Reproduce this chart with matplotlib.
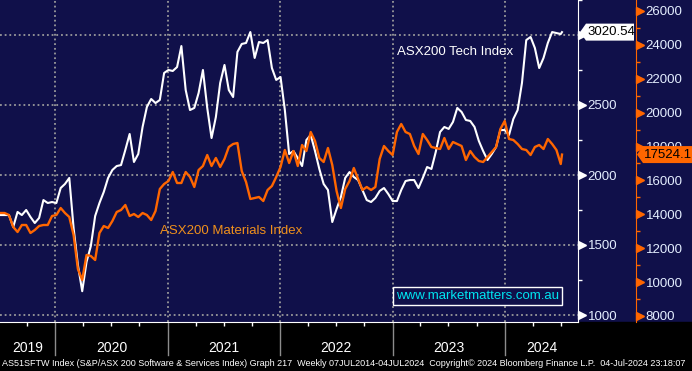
import pandas as pd
import matplotlib
matplotlib.use('Agg')
import matplotlib.pyplot as plt
import matplotlib.dates as mdates
from matplotlib.patches import Polygon, Rectangle
from matplotlib.transforms import blended_transform_factory, IdentityTransform

plt.rcParams['font.family'] = ['Liberation Sans', 'DejaVu Sans']

# biweekly closes (Jul 2019 - Jun 2024) + last print 4-Jul-2024
dates = list(pd.date_range('2019-07-07', periods=131, freq='2W')) + [pd.Timestamp('2024-07-04')]

tech = [1714, 1714, 1714, 1629, 1736, 1714, 1750, 1700, 1657, 1693,
        1821, 1800, 1807, 1800, 1907, 1936, 1979, 1621, 1357, 1170,
        1379, 1493, 1707, 1800, 1879, 1979, 2036, 2064, 2071, 2179,
        2293, 2093, 2150, 2343, 2486, 2543, 2514, 2536, 2729, 2750,
        2743, 2771, 2921, 2607, 2464, 2479, 2586, 2750, 2479, 2264,
        2414, 2657, 2786, 2607, 2557, 2879, 2936, 2943, 3021, 2836,
        2950, 2943, 2964, 2764, 2679, 2700, 2464, 2150, 2171, 2121,
        2064, 2250, 2286, 2171, 2043, 1936, 1893, 1664, 1757, 1843,
        1979, 2021, 1986, 1964, 1893, 1821, 1807, 1836, 1886, 1907,
        1864, 1814, 1814, 1893, 1957, 1964, 1964, 1907, 1979, 2057,
        2043, 2164, 2307, 2343, 2329, 2379, 2479, 2450, 2393, 2386,
        2343, 2243, 2171, 2107, 2150, 2200, 2321, 2321, 2286, 2400,
        2464, 2657, 2964, 2986, 2907, 2764, 2836, 2943, 3021, 3014,
        3007, 3020.54]

materials = [14077, 14077, 13959, 13251, 12956, 13369, 13369, 12897, 13074, 13310,
             13369, 13369, 13900, 13959, 14372, 14077, 13841, 12779, 10773, 10124,
             11599, 11540, 11304, 12897, 13310, 13192, 13605, 14136, 14254, 14549,
             13900, 14018, 13841, 14077, 13959, 13664, 14195, 15493, 15788, 15965,
             16496, 15847, 15847, 16496, 16201, 15611, 16614, 16850, 17499, 16850,
             17322, 16791, 17263, 17971, 18148, 18207, 16555, 15906, 14903, 14962,
             15021, 14785, 15434, 15670, 16201, 16791, 17794, 17027, 17735, 16850,
             18089, 17735, 18856, 18325, 17322, 17086, 17912, 16909, 15375, 14372,
             15493, 15965, 16732, 16083, 15434, 15611, 15434, 15611, 17263, 18030,
             17735, 17499, 18856, 19328, 18856, 18738, 18030, 17558, 18738, 18384,
             17971, 17912, 17853, 18502, 17853, 18266, 18148, 18030, 17204, 17735,
             17381, 17145, 17086, 17381, 17676, 17971, 19033, 19505, 18443, 18384,
             18148, 17853, 17794, 17499, 17971, 18089, 17853, 18443, 18148, 17794,
             16968, 17524.1]

years = [2019, 2020, 2021, 2022, 2023, 2024]
tech_ticks = [1000, 1500, 2000, 2500]
mat_ticks = list(range(8000, 26001, 2000))

NAVY = '#10104a'
ORANGE = '#ff6600'
LBL = '#e4eeff'
GRID = '#9a9a9a'
W, H = 692, 371

fig = plt.figure(figsize=(W / 100, H / 100), dpi=100, facecolor=NAVY)
fig.patches.append(Rectangle((0, 0), 1, 49 / H, transform=fig.transFigure,
                             color='black', zorder=-1))

ax = fig.add_axes([0, 49 / H, 578 / W, 322 / H])
ax.set_facecolor(NAVY)
ax.plot(dates, tech, color='white', lw=1.5, zorder=3)

ax2 = ax.twinx()
ax2.plot(dates, materials, color=ORANGE, lw=1.7)

x0, x1 = pd.Timestamp('2019-07-06'), pd.Timestamp('2024-08-25')
ax.set_xlim(x0, x1)
ax.set_ylim(950, 3250)
ax2.set_ylim(7646, 26644)

# dotted grid
for v in [1000, 1500, 2000, 2500, 3000]:
    ax.axhline(v, color=GRID, lw=1.3, ls=(0, (1, 1.6)), zorder=1)
for y in years[1:]:
    ax.axvline(pd.Timestamp(f'{y}-01-01'), color=GRID, lw=1.3, ls=(0, (1, 1.6)), zorder=1)

# spines
for s in ['top', 'left']:
    ax.spines[s].set_visible(False)
ax.spines['right'].set_color('white')
ax.spines['bottom'].set_color('white')
for s in ['top', 'left', 'bottom']:
    ax2.spines[s].set_visible(False)
ax2.spines['right'].set_position(('axes', 636 / 578))
ax2.spines['right'].set_color(ORANGE)

# tech axis (inner, white)
ax.yaxis.tick_right()
ax.set_yticks(tech_ticks)
ax.set_yticks([1250, 1750, 2250, 2750, 3250], minor=True)
ax.tick_params(axis='y', which='major', length=0, pad=7, labelsize=9.5, labelcolor=LBL)
ax.tick_params(axis='y', which='minor', length=3, width=1, color='white', direction='out')
bt = blended_transform_factory(ax.transAxes, ax.transData)
ax.plot([1.0069] * 5, tech_ticks + [3000], ls='none', marker='>', ms=5.5,
        color='white', transform=bt, clip_on=False)

# materials axis (outer, orange)
ax2.set_yticks(mat_ticks)
ax2.set_yticks(list(range(9000, 26000, 2000)), minor=True)
ax2.tick_params(axis='y', which='major', length=0, pad=7, labelsize=9.5, labelcolor=LBL)
ax2.tick_params(axis='y', which='minor', length=3, width=1, color=ORANGE, direction='out')
bt2 = blended_transform_factory(ax2.transAxes, ax2.transData)
ax2.plot([1.1065] * len(mat_ticks), mat_ticks, ls='none', marker='>', ms=5.5,
         color=ORANGE, transform=bt2, clip_on=False)

# x axis: quarter ticks, year separators and labels
ax.xaxis.set_major_locator(mdates.YearLocator())
ax.xaxis.set_minor_locator(mdates.MonthLocator(bymonth=[1, 4, 7, 10]))
ax.tick_params(axis='x', which='major', length=0, labelbottom=False)
ax.tick_params(axis='x', which='minor', length=3, width=1, color='white', direction='out')
bx = blended_transform_factory(ax.transData, ax.transAxes)
for y in years:
    a = max(pd.Timestamp(f'{y}-01-01'), x0)
    b = min(pd.Timestamp(f'{y + 1}-01-01'), x1)
    if y > years[0]:
        ax.plot([a, a], [0, -0.1025], color='#8c8c8c', lw=1, transform=bx, clip_on=False)
    ax.text(a + (b - a) / 2, -0.081, str(y), transform=bx, ha='center', va='center',
            color='white', fontsize=10)

# series names and watermark
ax.text(397 / 578, 1 - 52 / 322, 'ASX200 Tech Index', transform=ax.transAxes,
        color='white', fontsize=9.5, va='center')
ax.text(160 / 578, 1 - 231 / 322, 'ASX200 Materials Index', transform=ax.transAxes,
        color='#f0901c', fontsize=9.5, va='center')
ax.text(477.5 / 578, 1 - 296 / 322, 'www.marketmatters.com.au', transform=ax.transAxes,
        color='#00e5f0', fontsize=9.5, ha='center', va='center', zorder=6,
        bbox=dict(boxstyle='square,pad=0.25', fc=NAVY, ec='white', lw=1))


# last-value tags
def tag(axis, value, text, xa, xb, face):
    y = axis.transData.transform((0, value))[1]
    h = 8.5
    pts = [(xa, y), (xa + 6, y + h), (xb, y + h), (xb, y - h), (xa + 6, y - h)]
    fig.patches.append(Polygon(pts, closed=True, transform=IdentityTransform(),
                               fc=face, ec='none', zorder=5))
    fig.text((xa + 7) / W, y / H, text, color='black', fontsize=9.5, va='center', zorder=6)


tag(ax, tech[-1], '3020.54', 580, 634, 'white')
tag(ax2, materials[-1], '17524.1', 637, 700, ORANGE)

fig.text(2 / W, (H - 363.5) / H,
         'AS51SFTW Index (S&P/ASX 200 Software & Services Index) Graph 217  Weekly 07JUL2014-04JUL2024  '
         'Copyright\u00a9 2024 Bloomberg Finance L.P.  04-Jul-2024 23:18:07',
         color='white', fontsize=6.5, va='center')

fig.savefig('out.png', dpi=100, facecolor=fig.get_facecolor())
plt.close(fig)
